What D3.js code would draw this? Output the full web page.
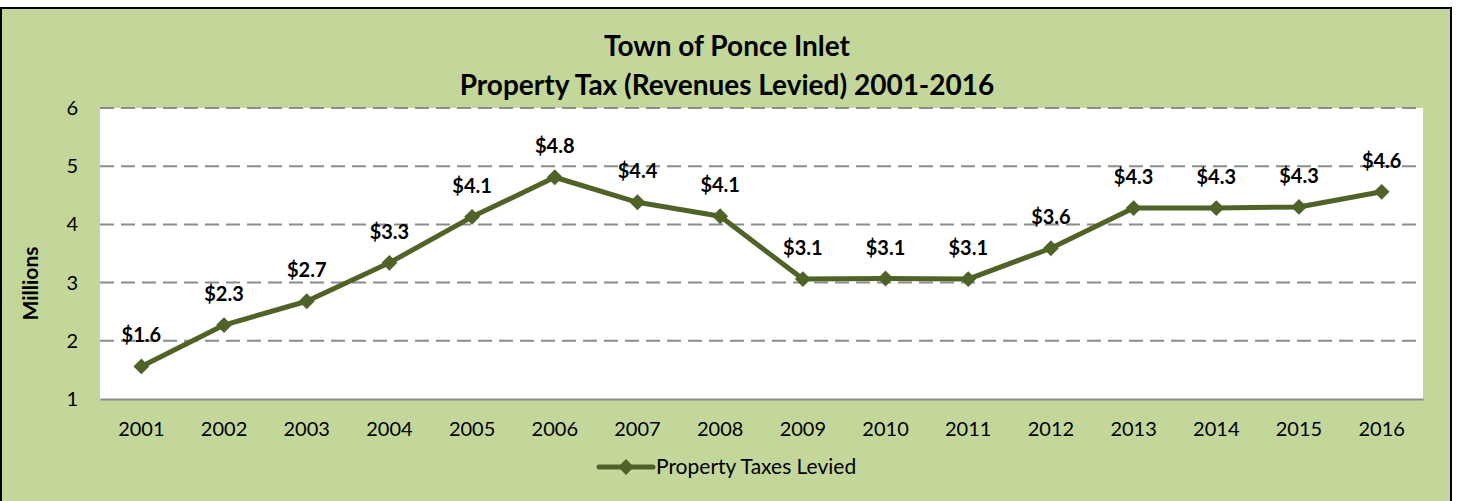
<!DOCTYPE html>
<html>
<head>
<meta charset="utf-8">
<script src="https://cdn.jsdelivr.net/npm/d3@7"></script>
<style>
  body { margin: 0; background: #fff; }
  svg { display: block; font-family: Lato, "Open Sans", sans-serif; }
</style>
</head>
<body>
<script>
// data (millions)
const years = ['2001','2002','2003','2004','2005','2006','2007','2008',
  '2009','2010','2011','2012','2013','2014','2015','2016']
const taxes = [1.56, 2.27, 2.68, 3.34, 4.13, 4.81, 4.38, 4.14,
  3.06, 3.07, 3.06, 3.59, 4.28, 4.28, 4.30, 4.56]
const yTicks = [1, 2, 3, 4, 5, 6]
const titleLines = ['Town of Ponce Inlet', 'Property Tax (Revenues Levied) 2001-2016']
const seriesName = 'Property Taxes Levied'

const W = 1461, H = 501
const plot = { left: 100, right: 1423, top: 108, bottom: 399 }
const green = '#4F6228'

const svg = d3.select('body').append('svg')
  .attr('width', W).attr('height', H)

// chart frame
svg.append('rect')
  .attr('x', 1).attr('y', 8).attr('width', 1450).attr('height', 510)
  .attr('fill', '#C4D79B').attr('stroke', '#000').attr('stroke-width', 2)

svg.append('rect')
  .attr('x', plot.left).attr('y', plot.top)
  .attr('width', plot.right - plot.left).attr('height', plot.bottom - plot.top)
  .attr('fill', '#fff')

const x = d3.scaleBand().domain(years).range([plot.left, plot.right])
const y = d3.scaleLinear().domain([1, 6]).range([plot.bottom, plot.top])

// gridlines
svg.append('g')
  .selectAll('line')
  .data(yTicks.filter(d => d > 1))
  .join('line')
  .attr('x1', plot.left).attr('x2', plot.right)
  .attr('y1', d => y(d)).attr('y2', d => y(d))
  .attr('stroke', '#8C8C8C').attr('stroke-width', 2)
  .attr('stroke-dasharray', '14 7')

// axes
const yAxis = svg.append('g')
  .attr('transform', `translate(${plot.left},0)`)
  .call(d3.axisLeft(y).tickValues(yTicks).tickFormat(d3.format('d')).tickSize(0).tickPadding(22))
yAxis.select('.domain').remove()
yAxis.selectAll('text').attr('font-size', 20).attr('fill', '#000')
  .attr('font-family', 'Lato, sans-serif')

const xAxis = svg.append('g')
  .attr('transform', `translate(0,${plot.bottom})`)
  .call(d3.axisBottom(x).tickSize(0).tickPadding(23))
xAxis.select('.domain').attr('stroke', '#8C8C8C').attr('stroke-width', 2)
xAxis.selectAll('text').attr('font-size', 20).attr('fill', '#000')
  .attr('font-family', 'Lato, sans-serif')

// line
const cx = (d, i) => x(years[i]) + x.bandwidth() / 2
svg.append('path')
  .datum(taxes)
  .attr('fill', 'none').attr('stroke', green).attr('stroke-width', 5)
  .attr('stroke-linejoin', 'round')
  .attr('d', d3.line().x(cx).y(d => y(d)))

const diamond = d3.symbol().type(d3.symbolDiamond2).size(160)
svg.append('g')
  .selectAll('path')
  .data(taxes)
  .join('path')
  .attr('d', diamond)
  .attr('transform', (d, i) => `translate(${cx(d, i)},${y(d)})`)
  .attr('fill', green)

// data labels
svg.append('g')
  .selectAll('text')
  .data(taxes)
  .join('text')
  .attr('x', cx)
  .attr('y', d => y(d) - 24)
  .attr('text-anchor', 'middle')
  .attr('font-size', 20).attr('font-weight', 'bold')
  .text(d => '$' + d3.format('.1f')(d))

// title
svg.append('g')
  .selectAll('text')
  .data(titleLines)
  .join('text')
  .attr('x', 727).attr('y', (d, i) => 56 + i * 39)
  .attr('text-anchor', 'middle')
  .attr('font-size', 28).attr('font-weight', 'bold')
  .text(d => d)

svg.append('text')
  .attr('transform', `translate(38,${(plot.top + plot.bottom) / 2 + 30}) rotate(-90)`)
  .attr('text-anchor', 'middle')
  .attr('font-size', 21).attr('font-weight', 'bold')
  .text('Millions')

// legend
const lg = svg.append('g').attr('transform', 'translate(599,467)')
lg.append('line').attr('x1', 0).attr('x2', 54)
  .attr('stroke', green).attr('stroke-width', 5).attr('stroke-linecap', 'round')
lg.append('path').attr('d', diamond).attr('transform', 'translate(27,0)').attr('fill', green)
lg.append('text').attr('x', 57).attr('y', 7)
  .attr('font-size', 21).text(seriesName)
</script>
</body>
</html>
